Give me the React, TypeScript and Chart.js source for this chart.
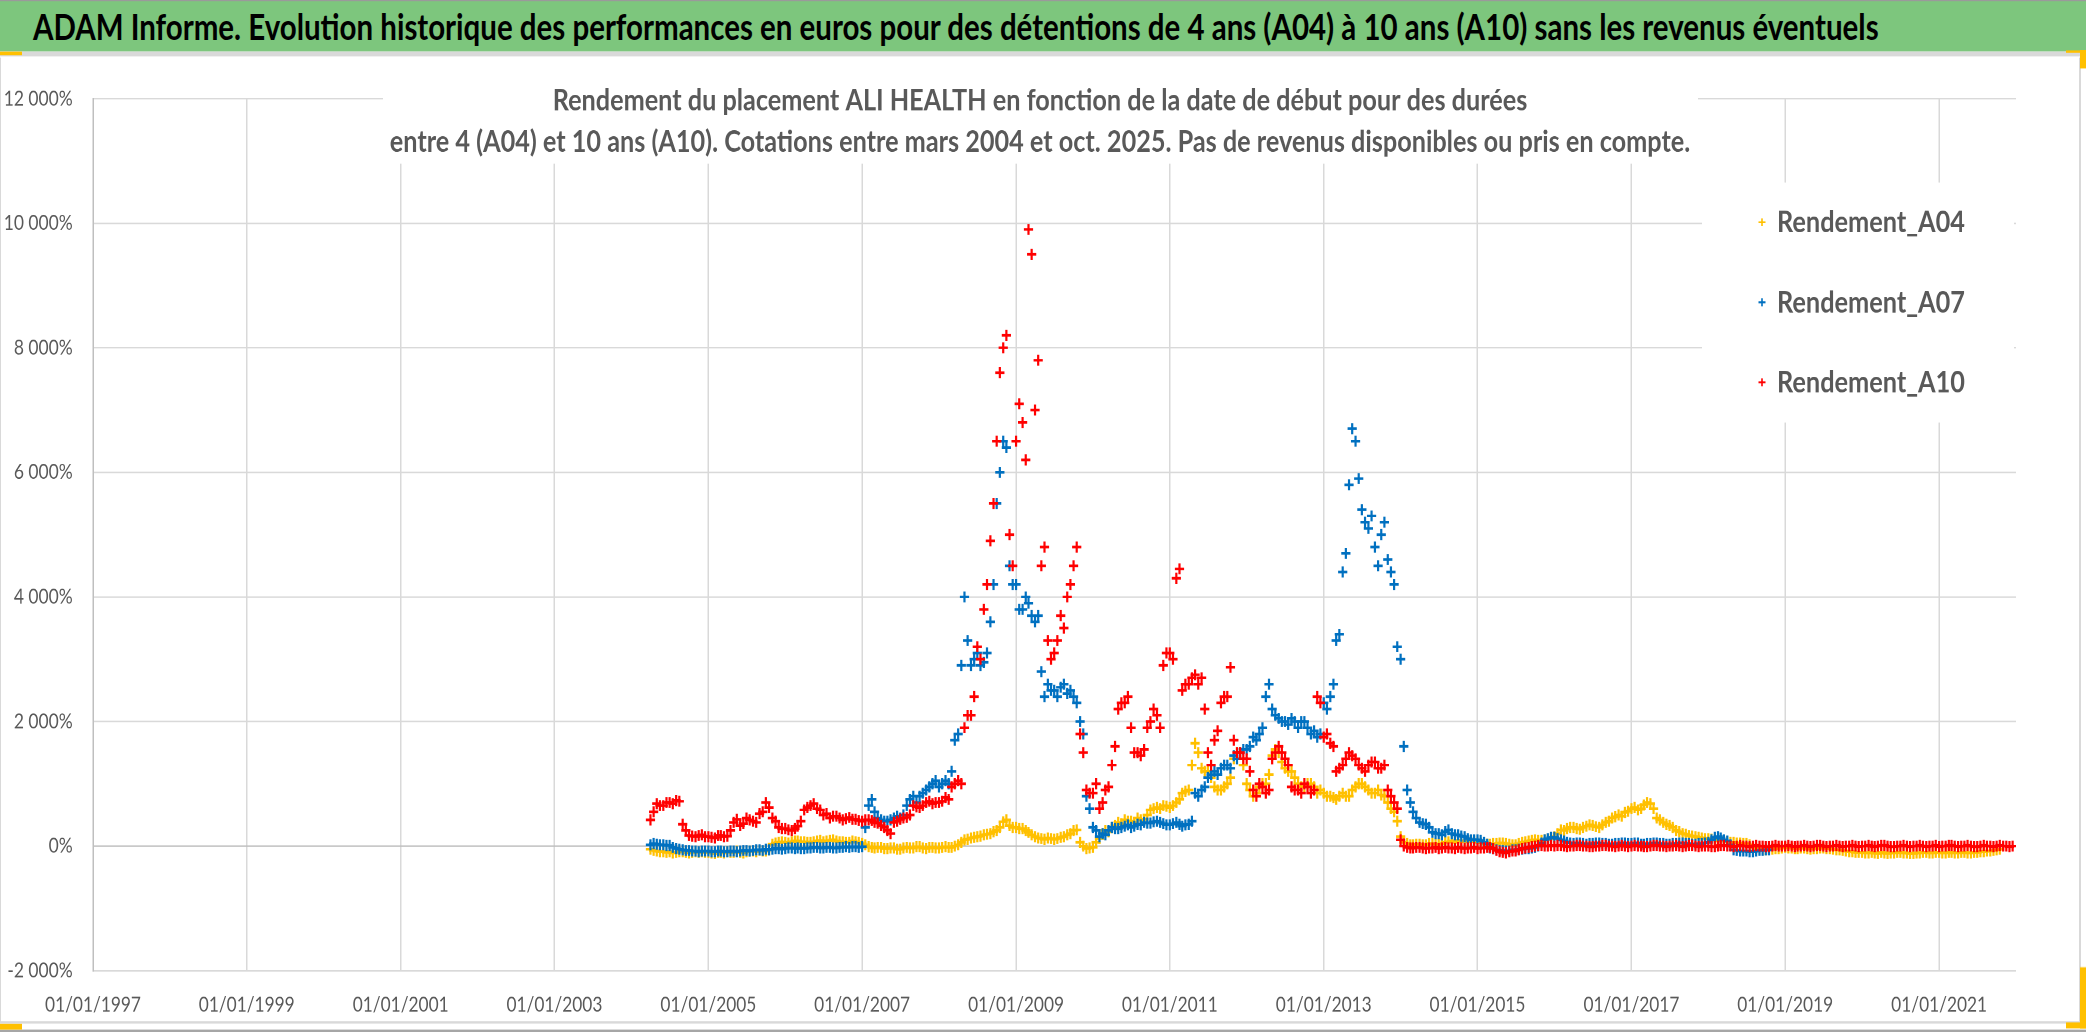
import { useEffect, useRef } from "react";
import { Chart, registerables } from "chart.js";

Chart.register(...registerables);

// the reference screenshot is stretched vertically, so the whole page is drawn
// at 1/SY of its height and scaled back with CSS
const SY = 1.2;
const PAGE_W = 2086;
const PAGE_H = 1032 / SY;

const FONT = "Lato, 'Open Sans', 'DejaVu Sans', sans-serif";
const GREY_TEXT = "#595959";
const GRID = "#D9D9D9";

const mainTitle =
  "ADAM Informe. Evolution historique des performances en euros pour des détentions de 4 ans (A04) à 10 ans (A10) sans les revenus éventuels";
const chartTitle = [
  "Rendement du placement ALI HEALTH en fonction de la date de début pour des durées",
  "entre 4 (A04) et 10 ans (A10). Cotations entre mars 2004 et oct. 2025. Pas de revenus disponibles ou pris en compte.",
];
const seriesNames = ["Rendement_A04", "Rendement_A07", "Rendement_A10"];
const seriesColors = ["#FFC000", "#0070C0", "#FF0000"];

// readings (in %) on the 1st and 16th of each month, first value = 1 avril 2004
const firstYear = 2004;
const firstMonth = 4;

const a04 = [
  -50, -70, -80, -90, -90, -100, -90, -110, -100, -90, -90, -100, -110, -100, -90, -100, -90, -100, // 2004
  -100, -110, -120, -100, -100, -110, -90, -100, -100, -80, -100, -110,
  -90, -80, -80, -90, -70, -80, -80, -60, 30, 50, 60, 70, // 2005
  60, 50, 70, 80, 80, 70, 70, 60, 60, 70, 80, 90, 70, 80, 90, 100, 80, 70, 70, 60, 60, 80, 70, 60, // 2006
  40, 20, -10, -20, -30, -20, -20, -40, -40, -30, -30, -50,
  -50, -30, -20, -30, -30, -10, -10, -30, -40, -20, -20, -30, // 2007
  -30, -20, -10, -20, -20, 0, 20, 60, 100, 110, 130, 140,
  150, 160, 180, 190, 200, 230, 250, 300, 390, 420, 330, 300, // 2008
  300, 280, 280, 250, 220, 180, 150, 130, 120, 110, 130, 120,
  110, 120, 140, 150, 180, 200, 250, 260, 60, 0, -40, -30, // 2009
  -20, 60, 120, 200, 250, 230, 300, 330, 380, 360, 420, 400,
  400, 380, 450, 420, 430, 500, 580, 600, 620, 600, 650, 640, // 2010
  620, 650, 700, 750, 850, 880, 900, 1300, 1650, 1500, 1250, 1200,
  1200, 1100, 950, 900, 900, 950, 1000, 1100, 1400, 1500, 1500, 1300, // 2011
  1000, 900, 800, 850, 950, 1000, 1000, 1150, 1450, 1550, 1500, 1350,
  1250, 1200, 1200, 1100, 1000, 950, 950, 1000, 1000, 950, 850, 900, // 2012
  850, 800, 800, 780, 750, 800, 850, 800, 800, 900, 950, 1000,
  1000, 950, 900, 850, 850, 900, 820, 800, 700, 600, 550, 400, // 2013
  150, 60, 40, 20, 20, 30, 30, 20, 20, 40, 40, 30, 30, 40, 60, 70, 80, 60, 90, 80, 70, 80, 80, 70, // 2014
  60, 50, 40, 30, 30, 40, 40, 50, 50, 40, 30, 20, 20, 40, 60, 70, 80, 90, 100, 90, 90, 100, 110, 120, // 2015
  150, 200, 260, 250, 280, 300, 300, 280, 270, 300, 320, 340,
  330, 310, 300, 340, 380, 400, 450, 470, 500, 480, 540, 560, // 2016
  600, 620, 580, 600, 660, 700, 680, 600, 450, 420, 380, 350,
  330, 300, 250, 230, 200, 190, 170, 160, 150, 140, 130, 120, // 2017
  120, 110, 100, 90, 80, 80, 70, 60, 60, 50, 50, 40, 40, 20, -20, -40, -50, -60, -60, -50, -50, -40, -40, -30, // 2018
  -20, -30, -30, -40, -40, -30, -30, -40, -50, -40, -40, -30,
  -30, -40, -40, -50, -60, -60, -70, -80, -90, -90, -100, -100, // 2019
  -100, -110, -110, -100, -110, -120, -100, -110, -120, -110, -110, -100,
  -100, -110, -110, -120, -120, -110, -110, -100, -100, -110, -110, -100, // 2020
  -100, -110, -110, -100, -100, -110, -110, -100, -100, -110, -110, -100,
  -100, -90, -90, -80, -80, -70, -60, -50, // 2021
];

const a07 = [
  20, 40, 30, 20, 20, 10, 10, -20, -40, -50, -60, -70, -70, -80, -80, -90, -80, -80, // 2004
  -80, -90, -90, -80, -80, -90, -90, -80, -80, -90, -80, -70,
  -70, -80, -70, -60, -60, -70, -50, -60, -50, -40, -40, -50, // 2005
  -40, -30, -30, -40, -30, -40, -40, -30, -30, -20, -20, -30,
  -30, -20, -20, -30, -30, -20, -20, -10, -20, -10, -10, -20, // 2006
  -10, 300, 650, 750, 550, 450, 420, 400, 400, 420, 450, 480,
  450, 500, 650, 750, 800, 700, 800, 850, 900, 950, 1000, 1050, // 2007
  950, 1000, 1050, 1000, 1200, 1700, 1800, 2900, 4000, 3300, 2900, 3000,
  3100, 2900, 2950, 3100, 3600, 4200, 5500, 6000, 6500, 6400, 4500, 4200, // 2008
  4200, 3800, 3800, 4000, 3900, 3700, 3600, 3700, 2800, 2400, 2600, 2500,
  2500, 2400, 2550, 2600, 2450, 2500, 2400, 2300, 2000, 1800, 800, 600, // 2009
  300, 250, 150, 200, 180, 250, 300, 280, 280, 300, 320, 340,
  300, 320, 350, 340, 380, 370, 370, 390, 400, 380, 360, 340, // 2010
  340, 360, 380, 350, 320, 340, 350, 400, 850, 800, 900, 950,
  1100, 1150, 1200, 1150, 1250, 1300, 1300, 1250, 1450, 1400, 1500, 1550, // 2011
  1550, 1600, 1750, 1700, 1800, 1900, 2400, 2600, 2200, 2100, 2050, 2000,
  2000, 1950, 2050, 2000, 1900, 2000, 2000, 1900, 1800, 1850, 1750, 1800, // 2012
  2300, 2200, 2400, 2600, 3300, 3400, 4400, 4700, 5800, 6700, 6500, 5900,
  5400, 5200, 5100, 5300, 4800, 4500, 5000, 5200, 4600, 4400, 4200, 3200, // 2013
  3000, 1600, 900, 700, 550, 450, 380, 360, 350, 300, 220, 200,
  200, 180, 230, 260, 200, 180, 180, 160, 150, 120, 100, 100, // 2014
  100, 90, 60, 30, -30, -40, -60, -70, -70, -80, -80, -60,
  -60, -50, -50, -40, -40, -30, -20, 0, 50, 100, 120, 140, // 2015
  140, 120, 100, 80, 60, 50, 40, 50, 50, 40, 30, 40, 40, 50, 50, 40, 40, 30, 30, 40, 40, 50, 50, 40, // 2016
  40, 50, 50, 30, 30, 40, 40, 50, 50, 40, 40, 30, 30, 40, 40, 50, 50, 40, 40, 30, 30, 40, 40, 50, // 2017
  60, 100, 140, 150, 130, 100, 80, 20, -60, -70, -80, -80, -80, -90, -90, -80, -70, -70, -60, -60, // 2018
];

const a10 = [
  420, 550, 680, 650, 650, 700, 700, 680, 730, 720, 350, 250, 170, 160, 150, 170, 180, 150, // 2004
  150, 140, 130, 170, 170, 150, 160, 250, 380, 430, 330, 360,
  450, 420, 400, 380, 520, 550, 700, 620, 450, 400, 300, 280, // 2005
  280, 260, 250, 280, 320, 400, 580, 620, 650, 680, 600, 580,
  500, 520, 450, 480, 480, 450, 420, 440, 460, 430, 430, 410, // 2006
  400, 420, 420, 410, 380, 370, 330, 300, 250, 200, 380, 400,
  430, 450, 460, 500, 650, 630, 620, 650, 700, 720, 680, 700, // 2007
  700, 720, 780, 750, 950, 1000, 1050, 1000, 1900, 2100, 2100, 2400,
  3200, 3000, 3800, 4200, 4900, 5500, 6500, 7600, 8000, 8200, 5000, 4500, // 2008
  6500, 7100, 6800, 6200, 9900, 9500, 7000, 7800, 4500, 4800, 3300, 3000,
  3100, 3300, 3700, 3500, 4000, 4200, 4500, 4800, 1800, 1500, 900, 850, // 2009
  850, 1000, 600, 700, 900, 950, 1300, 1600, 2200, 2300, 2300, 2400,
  1900, 1500, 1500, 1450, 1550, 1900, 2000, 2200, 2100, 1900, 2900, 3100, // 2010
  3100, 3000, 4300, 4450, 2500, 2600, 2600, 2700, 2750, 2600, 2700, 2200,
  1500, 1300, 1700, 1850, 2300, 2400, 2400, 2870, 1700, 1500, 1500, 1400, // 2011
  1400, 1200, 900, 800, 1000, 950, 850, 900, 1400, 1500, 1600, 1500,
  1400, 1300, 950, 900, 900, 850, 1000, 950, 850, 900, 2400, 2300, // 2012
  1750, 1800, 1650, 1600, 1200, 1250, 1300, 1400, 1500, 1450, 1400, 1300,
  1250, 1200, 1300, 1350, 1350, 1250, 1250, 1300, 900, 800, 700, 600, // 2013
  100, 0, -20, -30, -30, -20, -20, -30, -40, -30, -30, -20,
  -40, -30, -20, -30, -30, -40, -20, -30, -40, -30, -30, -20, // 2014
  -40, -30, -30, -20, -20, -40, -70, -90, -100, -110, -90, -80,
  -80, -60, -40, -30, -20, -10, 0, 10, 10, 0, 0, 10, // 2015
  0, 10, 10, 0, -10, 0, 0, 10, 10, 0, 0, -10, -10, 0, 0, 10, 10, 0, 0, -10, 0, 10, 0, -10, // 2016
  0, 10, 0, 0, -10, -10, 0, 10, 10, 0, 0, -10, 0, 0, 10, 0, -10, 0, 10, 10, 0, -10, 0, 0, // 2017
  0, -10, -10, 0, 10, 10, 0, 0, -10, 0, 10, 0, 0, -10, 0, 10, 0, 0, -10, -10, 0, 10, 0, 0, // 2018
  0, 10, 0, -10, 0, 0, 10, 0, -10, 0, 10, 10, 0, -10, 0, 0, 10, 0, -10, 0, 0, 10, 0, -10, // 2019
  0, 0, 10, 0, -10, 0, 10, 10, 0, -10, -10, 0, 0, 10, 0, -10, 0, 0, 10, 0, -10, 0, 0, 10, // 2020
  -10, 0, 0, 10, 10, 0, -10, 0, 0, 10, 0, -10, -10, 0, 10, 0, 0, -10, 0, 10, 0, 0, -10, 0, // 2021
];

const xTickYears = [1997, 1999, 2001, 2003, 2005, 2007, 2009, 2011, 2013, 2015, 2017, 2019, 2021];
const yTicks = [-2000, 0, 2000, 4000, 6000, 8000, 10000, 12000];
const xMin = Date.UTC(1997, 0, 1);
const xMax = Date.UTC(2022, 0, 1);

// layout, in page px (x) and stretched-down px (y)
const CANVAS_TOP = 57 / SY;
const CANVAS_H = 1022 / SY - CANVAS_TOP;
const PLOT_LEFT = 93;
const PLOT_RIGHT = 2016;
const PLOT_TOP = 98 / SY - CANVAS_TOP;
const PLOT_BOTTOM = 970 / SY - CANVAS_TOP;

const toPoints = (vals: number[]) =>
  vals.map((v, i) => ({
    x: Date.UTC(firstYear, firstMonth - 1 + Math.floor(i / 2), i % 2 ? 16 : 1),
    y: v,
  }));

const fmtPct = (v: number) => {
  const abs = Math.abs(v);
  const body = abs >= 1000 ? `${Math.floor(abs / 1000)} ${String(abs % 1000).padStart(3, "0")}` : String(abs);
  return `${v < 0 ? "-" : ""}${body}%`;
};

function fitFont(text: string, weight: number, width: number) {
  const c = document.createElement("canvas").getContext("2d");
  if (!c) return 20;
  c.font = `${weight} 100px ${FONT}`;
  return (100 * width) / c.measureText(text).width;
}

const cy = (refY: number) => refY / SY - CANVAS_TOP;

export default function App() {
  const canvasRef = useRef<HTMLCanvasElement | null>(null);
  const headerSize = fitFont(mainTitle, 700, 1847);

  useEffect(() => {
    if (!canvasRef.current) return;

    const xFont = fitFont("01/01/1997", 400, 96);
    const yFont = fitFont("12 000%", 400, 69);
    const titleFont = fitFont(chartTitle[1], 700, 1301);
    const legendFont = fitFont(seriesNames[0], 700, 188);

    // title and legend sit over the plot area, like in Excel
    const overlay = {
      id: "overlay",
      afterDraw(chart: Chart) {
        const ctx = chart.ctx;
        ctx.save();
        ctx.fillStyle = "#ffffff";
        ctx.fillRect(383, 0, 1698 - 383, cy(163));
        ctx.fillRect(1702, cy(182), 2014 - 1702, cy(422) - cy(182));

        ctx.fillStyle = GREY_TEXT;
        ctx.textAlign = "center";
        ctx.textBaseline = "alphabetic";
        ctx.font = `700 ${titleFont}px ${FONT}`;
        ctx.fillText(chartTitle[0], 1040, cy(110));
        ctx.fillText(chartTitle[1], 1040, cy(151));

        ctx.textAlign = "left";
        ctx.font = `700 ${legendFont}px ${FONT}`;
        const rows = [221.7, 301.7, 381.7];
        rows.forEach((r, i) => {
          const y = cy(r);
          ctx.strokeStyle = seriesColors[i];
          ctx.lineWidth = 1.6;
          ctx.beginPath();
          ctx.moveTo(1758.5, y);
          ctx.lineTo(1765.5, y);
          ctx.moveTo(1762, y - 3.3);
          ctx.lineTo(1762, y + 3.3);
          ctx.stroke();
          ctx.fillStyle = GREY_TEXT;
          ctx.fillText(seriesNames[i], 1777, cy(r + 10));
        });
        ctx.restore();
      },
    };

    const series = [a04, a07, a10];
    const chart = new Chart(canvasRef.current, {
      type: "scatter",
      data: {
        datasets: series.map((vals, i) => ({
          label: seriesNames[i],
          data: toPoints(vals),
          pointStyle: "cross",
          pointRadius: 4.6,
          pointBorderWidth: 2.2,
          borderColor: seriesColors[i],
          backgroundColor: seriesColors[i],
          order: 3 - i,
        })),
      },
      options: {
        animation: false,
        responsive: true,
        maintainAspectRatio: false,
        devicePixelRatio: 2,
        events: [],
        layout: { padding: { top: PLOT_TOP, right: PAGE_W - PLOT_RIGHT, left: 0, bottom: 0 } },
        plugins: {
          legend: { display: false },
          title: { display: false },
          tooltip: { enabled: false },
        },
        scales: {
          x: {
            type: "linear",
            min: xMin,
            max: xMax,
            afterBuildTicks: (s: any) => {
              s.ticks = xTickYears.map((y) => ({ value: Date.UTC(y, 0, 1) }));
            },
            afterFit: (s: any) => {
              s.height = CANVAS_H - PLOT_BOTTOM;
            },
            grid: { color: GRID, lineWidth: 1.5, drawTicks: false },
            border: { display: false },
            ticks: {
              color: GREY_TEXT,
              font: { family: FONT, size: xFont },
              padding: 28.4 - 0.6 * xFont,
              maxRotation: 0,
              autoSkip: false,
              callback: (v: any) => `01/01/${new Date(v).getUTCFullYear()}`,
            },
          },
          y: {
            min: -2000,
            max: 12000,
            afterBuildTicks: (s: any) => {
              s.ticks = yTicks.map((v) => ({ value: v }));
            },
            afterFit: (s: any) => {
              s.width = PLOT_LEFT;
            },
            grid: {
              color: (c: any) => (c.tick && c.tick.value === 0 ? "#BFBFBF" : GRID),
              lineWidth: 1.2,
              drawTicks: false,
            },
            border: { display: true, color: "#BFBFBF", width: 1.5 },
            ticks: {
              color: GREY_TEXT,
              font: { family: FONT, size: yFont },
              padding: 20.3,
              callback: (v: any) => fmtPct(Number(v)),
            },
          },
        },
      },
      plugins: [overlay],
    });

    return () => {
      chart.destroy();
    };
  }, []);

  const handle = (left: number, top: number, w: number, h: number) => (
    <div style={{ position: "absolute", left, top: top / SY, width: w, height: h / SY, background: "#FFC000" }} />
  );

  return (
    <div
      style={{
        position: "fixed",
        left: 0,
        top: 0,
        width: PAGE_W,
        height: PAGE_H,
        background: "#ffffff",
        transform: `scaleY(${SY})`,
        transformOrigin: "0 0",
        overflow: "hidden",
      }}
    >
      <div
        style={{
          position: "absolute",
          left: 0,
          top: 0,
          width: PAGE_W,
          height: 52 / SY,
          background: "#7DC67D",
          borderTop: "1px solid #9A9A9A",
          boxSizing: "border-box",
        }}
      >
        <span
          style={{
            position: "absolute",
            left: 33,
            top: -1,
            lineHeight: `${52 / SY}px`,
            fontSize: headerSize,
            fontWeight: 700,
            fontFamily: FONT,
            color: "#000000",
            whiteSpace: "nowrap",
          }}
        >
          {mainTitle}
        </span>
      </div>
      <div style={{ position: "absolute", left: 0, top: 52 / SY, width: PAGE_W, height: 5 / SY, background: GRID }} />
      <div style={{ position: "absolute", left: 0, top: CANVAS_TOP, width: PAGE_W, height: CANVAS_H }}>
        <canvas ref={canvasRef}></canvas>
      </div>
      <div style={{ position: "absolute", left: 2079, top: CANVAS_TOP, width: 2, height: CANVAS_H, background: GRID }} />
      <div style={{ position: "absolute", left: 0, top: CANVAS_TOP, width: 1, height: CANVAS_H, background: GRID }} />
      <div style={{ position: "absolute", left: 0, top: 1021.5 / SY, width: 2081, height: 2 / SY, background: GRID }} />
      <div style={{ position: "absolute", left: 0, top: 1030 / SY, width: PAGE_W, height: 2 / SY, background: "#A6A6A6" }} />
      {handle(0, 52, 22, 3)}
      {handle(2066, 50, 20, 3)}
      {handle(2080, 50, 6, 18)}
      {handle(2080, 967, 6, 62)}
      {handle(2066, 1022, 20, 7)}
      {handle(0, 1023, 22, 7)}
    </div>
  );
}
